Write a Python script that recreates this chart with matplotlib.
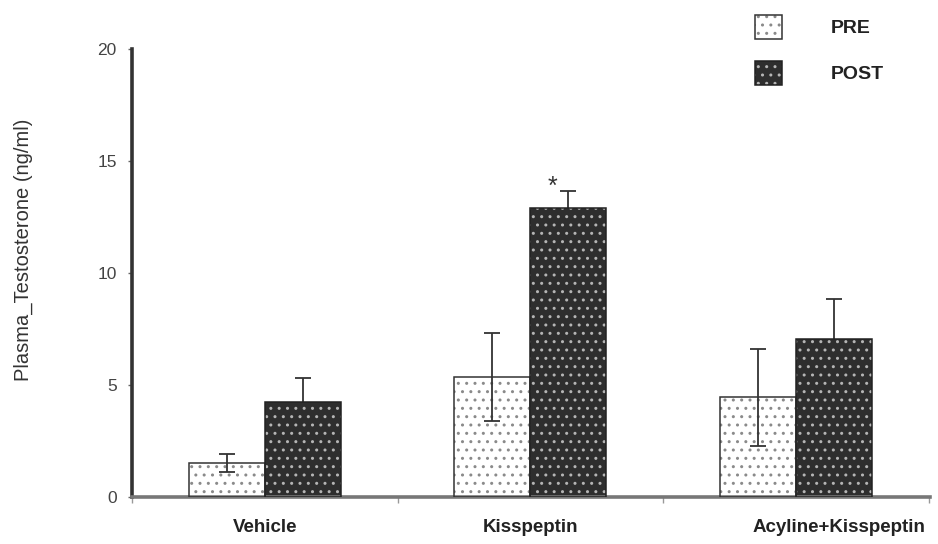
import numpy as np
import matplotlib
matplotlib.use("Agg")
import matplotlib.pyplot as plt
from matplotlib.patches import Patch

plt.rcParams['font.family'] = ['Liberation Sans', 'DejaVu Sans']
plt.rcParams['hatch.linewidth'] = 1.0

groups = ['Vehicle', 'Kisspeptin', 'Acyline+Kisspeptin']
pre_mean = [1.52, 5.35, 4.45]
pre_err = [0.42, 1.97, 2.17]
post_mean = [4.24, 12.9, 7.05]
post_err = [1.07, 0.76, 1.8]
series_labels = ['PRE', 'POST']
y_ticks = [0, 5, 10, 15, 20]

dark = '#2e2e2e'
x = np.arange(len(groups))
w = 0.286

fig = plt.figure(figsize=(9.38, 5.44), dpi=100)
ax = fig.add_axes([132 / 938, 47 / 544, 798 / 938, 448 / 544])

# post error bars behind the bars so only the upper half shows
ax.errorbar(x + w / 2, post_mean, yerr=post_err, fmt='none', ecolor='#333333',
            elinewidth=1.3, capsize=5.5, capthick=1.3, zorder=1)

# PRE: white with grey dots
ax.bar(x - w / 2, pre_mean, w, color='white', edgecolor='#8a8a8a', hatch='..',
       linewidth=0, zorder=2)
ax.bar(x - w / 2, pre_mean, w, color='none', edgecolor='#333333', linewidth=1.1, zorder=3)
# POST: dark with light dots
ax.bar(x + w / 2, post_mean, w, color=dark, edgecolor='#b5b5b5', hatch='..',
       linewidth=0, zorder=2)
ax.bar(x + w / 2, post_mean, w, color='none', edgecolor='#222222', linewidth=1.1, zorder=3)

ax.errorbar(x - w / 2, pre_mean, yerr=pre_err, fmt='none', ecolor='#333333',
            elinewidth=1.3, capsize=5.5, capthick=1.3, zorder=4)

ax.text(1.083, 13.85, '*', fontsize=18, ha='center', va='center', color='#333333')

ax.set_xlim(-0.5, 2.505)
ax.set_ylim(0, 20)
ax.set_yticks(y_ticks)
ax.tick_params(axis='y', length=3, width=1, color='#666666', pad=8,
               labelsize=12.5, labelcolor='#444444')
ax.set_xticks([-0.5, 0.5, 1.5, 2.5])
ax.set_xticklabels([])
ax.tick_params(axis='x', length=4, width=1, color='#999999')

for xi, name in zip([0, 1, 2.163], groups):
    ax.annotate(name, xy=(xi, 0), xycoords=('data', 'axes fraction'),
                xytext=(0, -30), textcoords='offset pixels',
                ha='center', va='center', fontsize=13.5, fontweight='bold',
                color='#222222')

for s in ['top', 'right']:
    ax.spines[s].set_visible(False)
ax.spines['left'].set_linewidth(2.6)
ax.spines['left'].set_color('#333333')
ax.spines['bottom'].set_linewidth(2.6)
ax.spines['bottom'].set_color('#777777')

fig.text(23 / 938, 1 - 250 / 544, 'Plasma_Testosterone (ng/ml)', rotation=90,
         ha='center', va='center', fontsize=14.5, color='#333333')

h_pre = (Patch(facecolor='white', edgecolor='#8a8a8a', hatch='..', linewidth=0),
         Patch(facecolor='none', edgecolor='#333333', linewidth=1.1))
h_post = (Patch(facecolor=dark, edgecolor='#b5b5b5', hatch='..', linewidth=0),
          Patch(facecolor='none', edgecolor='#222222', linewidth=1.1))
leg = ax.legend([h_pre, h_post], series_labels, loc='upper left',
                bbox_to_anchor=(755 / 938, 1 - 15 / 544), bbox_transform=fig.transFigure,
                frameon=False, borderpad=0, borderaxespad=0,
                handlelength=1.39, handleheight=1.5, handletextpad=2.5,
                labelspacing=1.15, prop={'size': 14, 'weight': 'bold'})
for t in leg.get_texts():
    t.set_color('#222222')

fig.savefig('out.png', dpi=100)
